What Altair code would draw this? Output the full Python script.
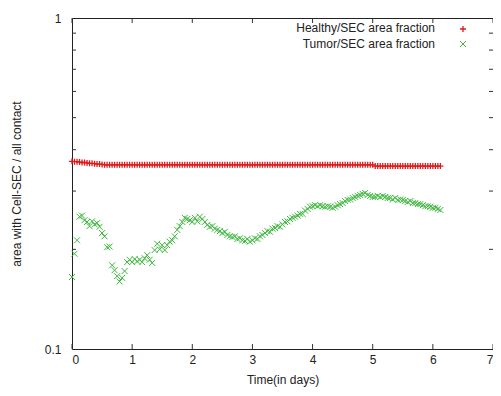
import altair as alt
import pandas as pd

# hourly samples (hour index), converted to days
hours = list(range(148))

healthy = [
    0.369, 0.368, 0.368, 0.367, 0.366, 0.366, 0.365, 0.364, 0.364, 0.363, 0.362, 0.362, 0.361,
    0.360, 0.360, 0.360, 0.360, 0.360, 0.360, 0.360, 0.360, 0.360, 0.360, 0.360, 0.360,
    0.360, 0.360, 0.360, 0.360, 0.360, 0.360, 0.360, 0.360, 0.360, 0.360, 0.360, 0.360,
    0.360, 0.360, 0.360, 0.360, 0.360, 0.360, 0.360, 0.360, 0.360, 0.360, 0.360, 0.360,
    0.360, 0.360, 0.360, 0.360, 0.360, 0.360, 0.360, 0.360, 0.360, 0.360, 0.360, 0.360,
    0.360, 0.360, 0.360, 0.360, 0.360, 0.360, 0.360, 0.360, 0.360, 0.360, 0.360, 0.360,
    0.360, 0.360, 0.360, 0.360, 0.360, 0.360, 0.360, 0.360, 0.360, 0.360, 0.360, 0.360,
    0.360, 0.360, 0.360, 0.360, 0.360, 0.360, 0.360, 0.360, 0.360, 0.360, 0.360, 0.360,
    0.360, 0.360, 0.360, 0.360, 0.360, 0.360, 0.360, 0.360, 0.360, 0.360, 0.360, 0.360,
    0.360, 0.360, 0.360, 0.360, 0.360, 0.360, 0.360, 0.360, 0.360, 0.360, 0.360, 0.360,
    0.357, 0.357, 0.357, 0.357, 0.357, 0.357, 0.357, 0.357, 0.357, 0.357, 0.357, 0.357,
    0.357, 0.357, 0.357, 0.357, 0.357, 0.357, 0.357, 0.357, 0.357, 0.357, 0.357, 0.357,
    0.357, 0.357, 0.357,
]

tumor = [
    0.165, 0.194, 0.213, 0.251, 0.253, 0.245, 0.242, 0.235, 0.243, 0.238, 0.240, 0.234,
    0.224, 0.219, 0.203, 0.204, 0.179, 0.173, 0.166, 0.160, 0.164, 0.172, 0.183, 0.186,
    0.183, 0.187, 0.184, 0.186, 0.183, 0.188, 0.192, 0.186, 0.182, 0.199, 0.208, 0.200,
    0.206, 0.199, 0.206, 0.211, 0.213, 0.219, 0.229, 0.235, 0.242, 0.249, 0.247, 0.245,
    0.242, 0.249, 0.243, 0.251, 0.247, 0.242, 0.237, 0.234, 0.235, 0.231, 0.229, 0.227,
    0.224, 0.226, 0.221, 0.219, 0.218, 0.219, 0.215, 0.216, 0.213, 0.212, 0.215, 0.211,
    0.213, 0.216, 0.215, 0.219, 0.221, 0.224, 0.227, 0.226, 0.231, 0.232, 0.235, 0.234,
    0.238, 0.242, 0.243, 0.247, 0.249, 0.251, 0.253, 0.256, 0.256, 0.262, 0.265, 0.269,
    0.270, 0.272, 0.270, 0.272, 0.270, 0.269, 0.270, 0.269, 0.267, 0.269, 0.272, 0.274,
    0.276, 0.280, 0.282, 0.283, 0.286, 0.288, 0.290, 0.292, 0.294, 0.296, 0.292, 0.290,
    0.288, 0.288, 0.290, 0.288, 0.290, 0.288, 0.286, 0.286, 0.283, 0.286, 0.282, 0.283,
    0.282, 0.280, 0.278, 0.280, 0.276, 0.276, 0.274, 0.274, 0.272, 0.270, 0.270, 0.269,
    0.267, 0.267, 0.265, 0.263,
]

series_names = ["Healthy/SEC area fraction", "Tumor/SEC area fraction"]
x_ticks = [0, 1, 2, 3, 4, 5, 6, 7]
y_labels = [0.1, 1]
y_minor = [0.2, 0.3, 0.4, 0.5, 0.6, 0.7, 0.8, 0.9]

W, H = 421, 331
RED = "#e0181b"
GREEN = "#3cb83c"
TXT = "#222222"
FONT = "Liberation Sans"
PLUS = "M-1,0L1,0M0,-1L0,1"
CROSS = "M-1,-1L1,1M1,-1L-1,1"

days = [h / 24 for h in hours]
df_h = pd.DataFrame({"time": days, "value": healthy})
df_t = pd.DataFrame({"time": days, "value": tumor})

xs = alt.Scale(domain=[0, 7], nice=False, zero=False)
ys = alt.Scale(type="log", domain=[0.1, 1], nice=False)

xaxis = alt.Axis(values=x_ticks, domain=False, ticks=False, grid=False,
                 labelPadding=5, labelFontSize=12, labelColor=TXT, labelFont=FONT,
                 title="Time(in days)", titleFontSize=12, titleFontWeight="normal",
                 titleColor=TXT, titleFont=FONT, titlePadding=9)
yaxis = alt.Axis(values=y_labels, format="~g", domain=False, ticks=False, grid=False,
                 labelPadding=11, labelFontSize=12, labelColor=TXT, labelFont=FONT,
                 title="area with Cell-SEC / all contact", titleFontSize=12,
                 titleFontWeight="normal", titleColor=TXT, titleFont=FONT, titlePadding=21)

X = alt.X("time:Q", scale=xs, axis=xaxis)
Y = alt.Y("value:Q", scale=ys, axis=yaxis)

pts_h = alt.Chart(df_h).mark_point(shape=PLUS, filled=False, size=36, strokeWidth=1.3,
                                   color=RED, opacity=1).encode(x=X, y=Y)
pts_t = alt.Chart(df_t).mark_point(shape=CROSS, filled=False, size=36, strokeWidth=1,
                                   color=GREEN, opacity=1).encode(x=X, y=Y)

df_xt = pd.DataFrame({"time": x_ticks})
xt_bot = alt.Chart(df_xt).mark_rule(color="#333", strokeWidth=1).encode(
    x=X, y=alt.value(H), y2=alt.value(H - 5))
xt_top = alt.Chart(df_xt).mark_rule(color="#333", strokeWidth=1).encode(
    x=X, y=alt.value(0), y2=alt.value(5))

df_ym = pd.DataFrame({"value": y_minor})
yt_left = alt.Chart(df_ym).mark_rule(color="#333", strokeWidth=1).encode(
    y=Y, x=alt.value(0), x2=alt.value(4))
yt_right = alt.Chart(df_ym).mark_rule(color="#333", strokeWidth=1).encode(
    y=Y, x=alt.value(W), x2=alt.value(W - 4))

leg1 = alt.Chart(pd.DataFrame({"label": [series_names[0]]})).mark_text(
    align="right", baseline="middle", fontSize=12, font=FONT, color=TXT).encode(
    text="label:N", x=alt.value(363), y=alt.value(10))
leg2 = alt.Chart(pd.DataFrame({"label": [series_names[1]]})).mark_text(
    align="right", baseline="middle", fontSize=12, font=FONT, color=TXT).encode(
    text="label:N", x=alt.value(363), y=alt.value(26))
legp1 = alt.Chart(pd.DataFrame({"label": [series_names[0]]})).mark_point(
    shape=PLUS, filled=False, size=36, strokeWidth=1.3, color=RED, opacity=1).encode(
    x=alt.value(391), y=alt.value(11))
legp2 = alt.Chart(pd.DataFrame({"label": [series_names[1]]})).mark_point(
    shape=CROSS, filled=False, size=36, strokeWidth=1, color=GREEN, opacity=1).encode(
    x=alt.value(391), y=alt.value(26))

chart = alt.layer(
    xt_bot, xt_top, yt_left, yt_right, pts_h, pts_t, leg1, leg2, legp1, legp2
).properties(
    width=W, height=H,
    autosize=alt.AutoSizeParams(type="none"),
    padding={"left": 64, "top": 10, "right": 0, "bottom": 39},
    background="white",
).configure_view(
    stroke="#222", strokeWidth=1
)

chart.save("out.html", embed_options={"renderer": "svg", "actions": False})
